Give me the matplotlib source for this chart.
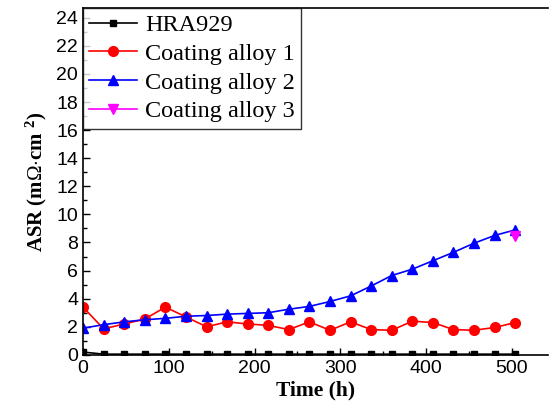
import numpy as np
import matplotlib.pyplot as plt
from matplotlib.ticker import MultipleLocator

plt.rcParams['mathtext.fontset'] = 'custom'
plt.rcParams['mathtext.bf'] = 'Liberation Serif:bold'
plt.rcParams['mathtext.rm'] = 'Liberation Serif'

# ASR measured every 24 h
time_h = np.arange(0, 505, 24)
hra929 = [0.2] + [0.05] * 21
alloy1 = [3.4, 1.85, 2.2, 2.55, 3.4, 2.7, 2.0, 2.35, 2.2, 2.1, 1.8,
          2.35, 1.75, 2.35, 1.8, 1.75, 2.4, 2.3, 1.8, 1.75, 1.95, 2.3]
alloy2 = [1.9, 2.15, 2.35, 2.5, 2.6, 2.75, 2.8, 2.9, 2.95, 3.0, 3.25,
          3.45, 3.8, 4.2, 4.9, 5.65, 6.1, 6.7, 7.3, 7.95, 8.5, 8.9]
alloy3_time = [504]
alloy3 = [8.45]

fig = plt.figure(figsize=(5.5, 4.17), dpi=100)
ax = fig.add_axes([0.151, 0.149, 0.845, 0.832])

ax.plot(time_h, hra929, color='black', marker='s', markersize=5, lw=1.2, label='HRA929')
ax.plot(time_h, alloy1, color='red', marker='o', markersize=7, lw=1.2, label='Coating alloy 1')
ax.plot(time_h, alloy2, color='blue', marker='^', markersize=7.5, lw=1.2, label='Coating alloy 2')
ax.plot(alloy3_time, alloy3, color='magenta', marker='v', markersize=7.5, lw=1.2, label='Coating alloy 3')

ax.set_xlim(0, 542)
ax.set_ylim(0, 24.7)
ax.xaxis.set_major_locator(MultipleLocator(100))
ax.xaxis.set_minor_locator(MultipleLocator(50))
ax.yaxis.set_major_locator(MultipleLocator(2))
ax.yaxis.set_minor_locator(MultipleLocator(1))
ax.tick_params(which='both', direction='in', width=1)
ax.tick_params(which='major', length=5, labelsize=14)
ax.tick_params(which='minor', length=3)
for lbl in ax.get_xticklabels() + ax.get_yticklabels():
    lbl.set_family('Liberation Sans')
ax.spines['right'].set_visible(False)
for s in ['left', 'bottom', 'top']:
    ax.spines[s].set_linewidth(1.2)

ax.set_xlabel('Time (h)', family='Liberation Serif', fontweight='bold', fontsize=15.5, labelpad=3)
ax.set_ylabel(r'ASR (m$\Omega$$\cdot$cm $\mathbf{^{2}}$)', family='Liberation Serif',
              fontweight='bold', fontsize=15, labelpad=5)

leg = ax.legend(loc='upper left', prop={'family': 'Liberation Serif', 'size': 17.5},
                frameon=True, fancybox=False, borderaxespad=0, handlelength=1.95,
                handletextpad=0.35, labelspacing=0.28, borderpad=0.25)
leg.get_frame().set_edgecolor('black')
leg.get_frame().set_linewidth(1)

fig.savefig('out.png', dpi=100)
